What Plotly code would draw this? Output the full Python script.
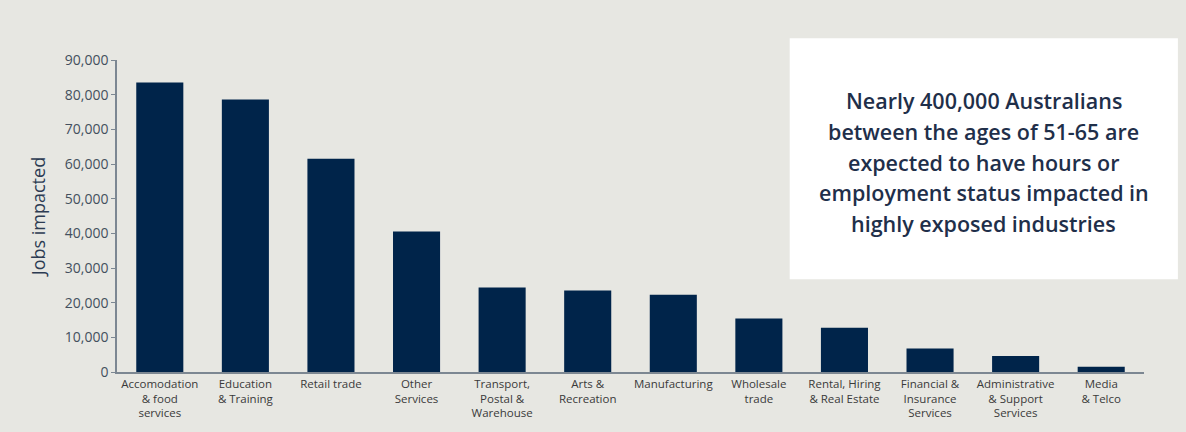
import plotly.graph_objects as go

categories = [
    "Accomodation<br>& food<br>services",
    "Education<br>& Training",
    "Retail trade",
    "Other<br>Services",
    "Transport,<br>Postal &<br>Warehouse",
    "Arts &<br>Recreation",
    "Manufacturing",
    "Wholesale<br>trade",
    "Rental, Hiring<br>& Real Estate",
    "Financial &<br>Insurance<br>Services",
    "Administrative<br>& Support<br>Services",
    "Media<br>& Telco",
]
jobs = [83500, 78600, 61500, 40500, 24400, 23500, 22300, 15400, 12800, 6800, 4600, 1500]
y_ticks = [0, 10000, 20000, 30000, 40000, 50000, 60000, 70000, 80000, 90000]

note_lines = [
    "Nearly 400,000 Australians",
    "between the ages of 51-65 are",
    "expected to have hours or",
    "employment status impacted in",
    "highly exposed industries",
]

BG = "#e7e7e2"
NAVY = "#00244a"
TXT = "#1f2f4a"

fig = go.Figure(go.Bar(x=categories, y=jobs, marker=dict(color=NAVY, line=dict(width=0)),
                       hoverinfo="x+y"))

# plot area: x 117..1144, y 60..374.5 (pixels)
top_px, bot_px = 60, 374.5
ph = bot_px - top_px

def py(p):
    return (bot_px - p) / ph

line_centers = [101, 132, 163, 194, 225]
annotations = [dict(text=t, xref="paper", yref="paper", x=0.844, y=py(c),
                    xanchor="center", yanchor="middle", showarrow=False,
                    font=dict(size=21.5, color=TXT, weight=600))
               for t, c in zip(note_lines, line_centers)]

fig.update_layout(
    width=1186, height=432,
    margin=dict(l=117, r=42, t=top_px, b=432 - bot_px),
    paper_bgcolor=BG, plot_bgcolor=BG,
    bargap=0.45,
    font=dict(family="Open Sans, Noto Sans, sans-serif", color="#3a3a3a", size=12),
    showlegend=False,
    xaxis=dict(showline=True, linecolor="#7c8792", linewidth=1.5, ticks="",
               showgrid=False, tickfont=dict(size=11.5, color="#3a3a3a"),
               tickangle=0),
    yaxis=dict(range=[0, 90000], tickvals=y_ticks, tickformat=",", showgrid=False,
               showline=True, linecolor="#7c8792", linewidth=1.5, ticks="outside",
               ticklen=4, tickcolor="#7c8792", zeroline=False,
               tickfont=dict(size=14, color="#44505e"),
               title=dict(text="Jobs impacted", font=dict(size=18, color="#2c3b52"), standoff=14)),
    shapes=[dict(type="rect", xref="paper", yref="paper", x0=0.655, x1=1.033,
                 y0=py(281), y1=py(38), fillcolor="white", line=dict(width=0), layer="above")],
    annotations=annotations,
)

fig.write_html("out.html")
